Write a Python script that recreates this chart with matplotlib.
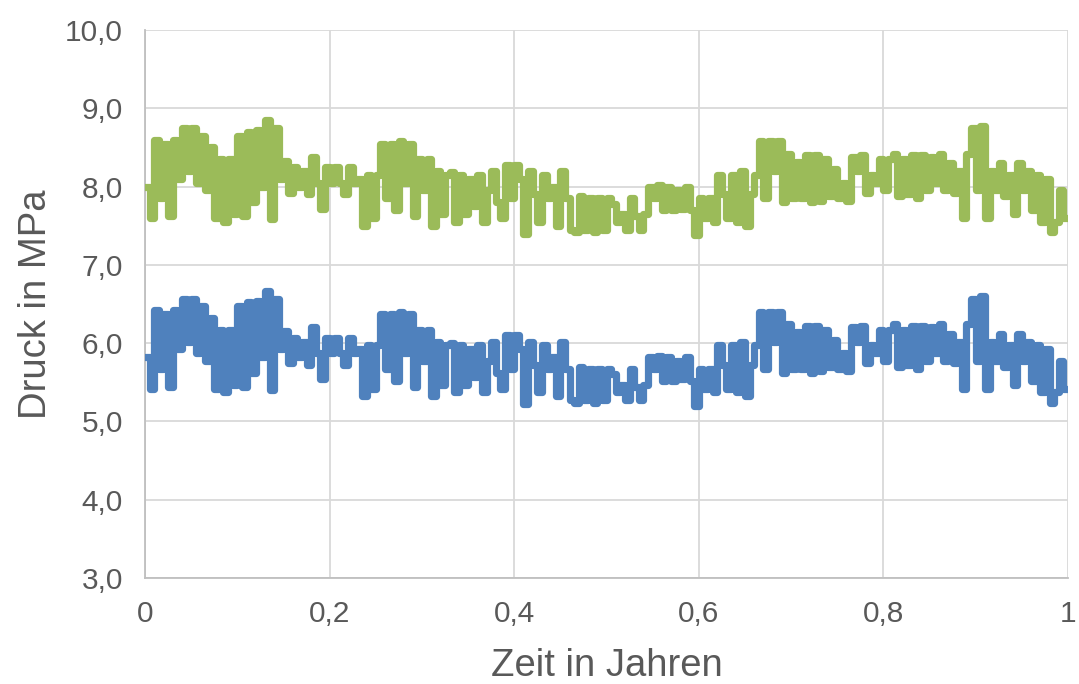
import matplotlib
matplotlib.use("Agg")
import matplotlib.pyplot as plt
from matplotlib.ticker import FixedLocator, FuncFormatter

# Zeitachse: 201 Stützstellen über ein Jahr (Schrittweite 0,005 Jahre)
n_points = 201
x_step = 0.005

# Druckverlauf oberer Strang (MPa)
druck_oben = [
    8.00, 7.60, 8.60, 7.85, 8.55, 7.62, 8.60, 8.10, 8.75, 8.20,
    8.75, 8.05, 8.65, 7.95, 8.50, 7.60, 8.35, 7.55, 8.35, 7.65,
    8.65, 7.62, 8.70, 7.80, 8.72, 8.00, 8.85, 7.58, 8.75, 8.10,
    8.33, 7.92, 8.25, 8.00, 8.20, 7.90, 8.38, 8.05, 7.72, 8.25,
    8.05, 8.25, 8.05, 7.90, 8.25, 8.05, 8.10, 7.50, 8.15, 7.60,
    8.15, 8.55, 7.85, 8.55, 7.70, 8.58, 8.05, 8.55, 7.62, 8.35,
    7.95, 8.35, 7.50, 8.20, 7.65, 8.15, 8.18, 7.55, 8.15, 7.65,
    8.10, 7.75, 8.15, 7.55, 7.95, 8.20, 7.80, 7.60, 8.28, 7.85,
    8.28, 8.10, 7.40, 8.20, 7.90, 7.55, 8.15, 7.85, 8.00, 7.50,
    8.20, 7.85, 7.45, 7.42, 7.88, 7.45, 7.85, 7.42, 7.85, 7.45,
    7.85, 7.78, 7.55, 7.65, 7.45, 7.85, 7.62, 7.45, 7.65, 8.00,
    7.85, 8.02, 7.70, 8.00, 7.70, 7.95, 7.72, 8.00, 7.70, 7.38,
    7.85, 7.60, 7.85, 7.55, 8.15, 7.90, 7.60, 8.15, 7.55, 8.20,
    7.50, 7.90, 8.15, 8.58, 7.85, 8.58, 8.20, 8.58, 7.80, 8.42,
    7.85, 8.32, 7.85, 8.40, 7.80, 8.40, 7.82, 8.35, 7.88, 8.22,
    7.85, 8.05, 7.82, 8.38, 8.20, 8.40, 7.92, 8.15, 8.05, 8.35,
    7.95, 8.35, 8.42, 7.88, 8.35, 7.90, 8.40, 7.85, 8.40, 7.95,
    8.38, 8.05, 8.42, 7.95, 8.30, 7.92, 8.20, 7.60, 8.42, 8.75,
    7.95, 8.78, 7.60, 8.20, 7.95, 8.30, 7.88, 8.15, 7.65, 8.30,
    7.95, 8.20, 7.70, 8.15, 7.55, 8.10, 7.42, 7.55, 7.95, 7.60,
    7.60,
]

# Druckverlauf unterer Strang (MPa)
druck_unten = [
    5.82, 5.42, 6.42, 5.67, 6.37, 5.44, 6.42, 5.92, 6.57, 6.02,
    6.57, 5.87, 6.47, 5.77, 6.32, 5.42, 6.17, 5.37, 6.17, 5.47,
    6.47, 5.44, 6.52, 5.62, 6.54, 5.82, 6.67, 5.40, 6.57, 5.92,
    6.15, 5.74, 6.07, 5.82, 6.02, 5.72, 6.20, 5.87, 5.54, 6.07,
    5.87, 6.07, 5.87, 5.72, 6.07, 5.87, 5.92, 5.32, 5.97, 5.42,
    5.97, 6.37, 5.67, 6.37, 5.52, 6.40, 5.87, 6.37, 5.44, 6.17,
    5.77, 6.17, 5.32, 6.02, 5.47, 5.97, 6.00, 5.37, 5.97, 5.47,
    5.92, 5.57, 5.97, 5.37, 5.77, 6.02, 5.62, 5.42, 6.10, 5.67,
    6.10, 5.92, 5.22, 6.02, 5.72, 5.37, 5.97, 5.67, 5.82, 5.32,
    6.02, 5.67, 5.27, 5.24, 5.70, 5.27, 5.67, 5.24, 5.67, 5.27,
    5.67, 5.60, 5.37, 5.47, 5.27, 5.67, 5.44, 5.27, 5.47, 5.82,
    5.67, 5.84, 5.52, 5.82, 5.52, 5.77, 5.54, 5.82, 5.52, 5.20,
    5.67, 5.42, 5.67, 5.37, 5.97, 5.72, 5.42, 5.97, 5.37, 6.02,
    5.32, 5.72, 5.97, 6.40, 5.67, 6.40, 6.02, 6.40, 5.62, 6.24,
    5.67, 6.14, 5.67, 6.22, 5.62, 6.22, 5.64, 6.17, 5.70, 6.04,
    5.67, 5.87, 5.64, 6.20, 6.02, 6.22, 5.74, 5.97, 5.87, 6.17,
    5.77, 6.17, 6.24, 5.70, 6.17, 5.72, 6.22, 5.67, 6.22, 5.77,
    6.20, 5.87, 6.24, 5.77, 6.12, 5.74, 6.02, 5.42, 6.24, 6.57,
    5.77, 6.60, 5.42, 6.02, 5.77, 6.12, 5.70, 5.97, 5.47, 6.12,
    5.77, 6.02, 5.52, 5.97, 5.37, 5.92, 5.24, 5.37, 5.77, 5.42,
    5.42,
]

y_ticks = [3, 4, 5, 6, 7, 8, 9, 10]
x_ticks = [0, 0.2, 0.4, 0.6, 0.8, 1.0]
x_label = "Zeit in Jahren"
y_label = "Druck in MPa"

zeit = [i * x_step for i in range(n_points)]

plt.rcParams["font.family"] = ["Liberation Sans", "DejaVu Sans"]
text_color = "#595959"
grid_color = "#D9D9D9"

fig = plt.figure(figsize=(10.79, 6.84), dpi=100)
ax = fig.add_axes([0.1344, 0.155, 0.8554, 0.8011])

ax.plot(zeit, druck_oben, drawstyle="steps-post", color="#9BBB59",
        lw=5.2, solid_joinstyle="round", solid_capstyle="round", zorder=3)
ax.plot(zeit, druck_unten, drawstyle="steps-post", color="#4F81BD",
        lw=5.2, solid_joinstyle="round", solid_capstyle="round", zorder=3)

ax.set_xlim(0, 1)
ax.set_ylim(3, 10)
ax.xaxis.set_major_locator(FixedLocator(x_ticks))
ax.yaxis.set_major_locator(FixedLocator(y_ticks))


def komma(fmt):
    return FuncFormatter(lambda v, _: fmt(v).replace(".", ","))


ax.xaxis.set_major_formatter(komma(lambda v: "0" if v == 0 else ("1" if v == 1 else f"{v:.1f}")))
ax.yaxis.set_major_formatter(komma(lambda v: f"{v:.1f}"))

ax.grid(True, color=grid_color, lw=1.3, zorder=0)
ax.set_axisbelow(True)
for side in ("top", "right"):
    ax.spines[side].set_visible(False)
for side in ("left", "bottom"):
    ax.spines[side].set_color("#BFBFBF")
    ax.spines[side].set_linewidth(1.3)

ax.tick_params(axis="both", length=0, labelsize=21.5, colors=text_color)
ax.tick_params(axis="y", pad=16)
ax.tick_params(axis="x", pad=16)

ax.set_xlabel(x_label, fontsize=27.5, color=text_color, labelpad=14)
ax.set_ylabel(y_label, fontsize=27.5, color=text_color, labelpad=8)

fig.savefig("out.png", dpi=100)
